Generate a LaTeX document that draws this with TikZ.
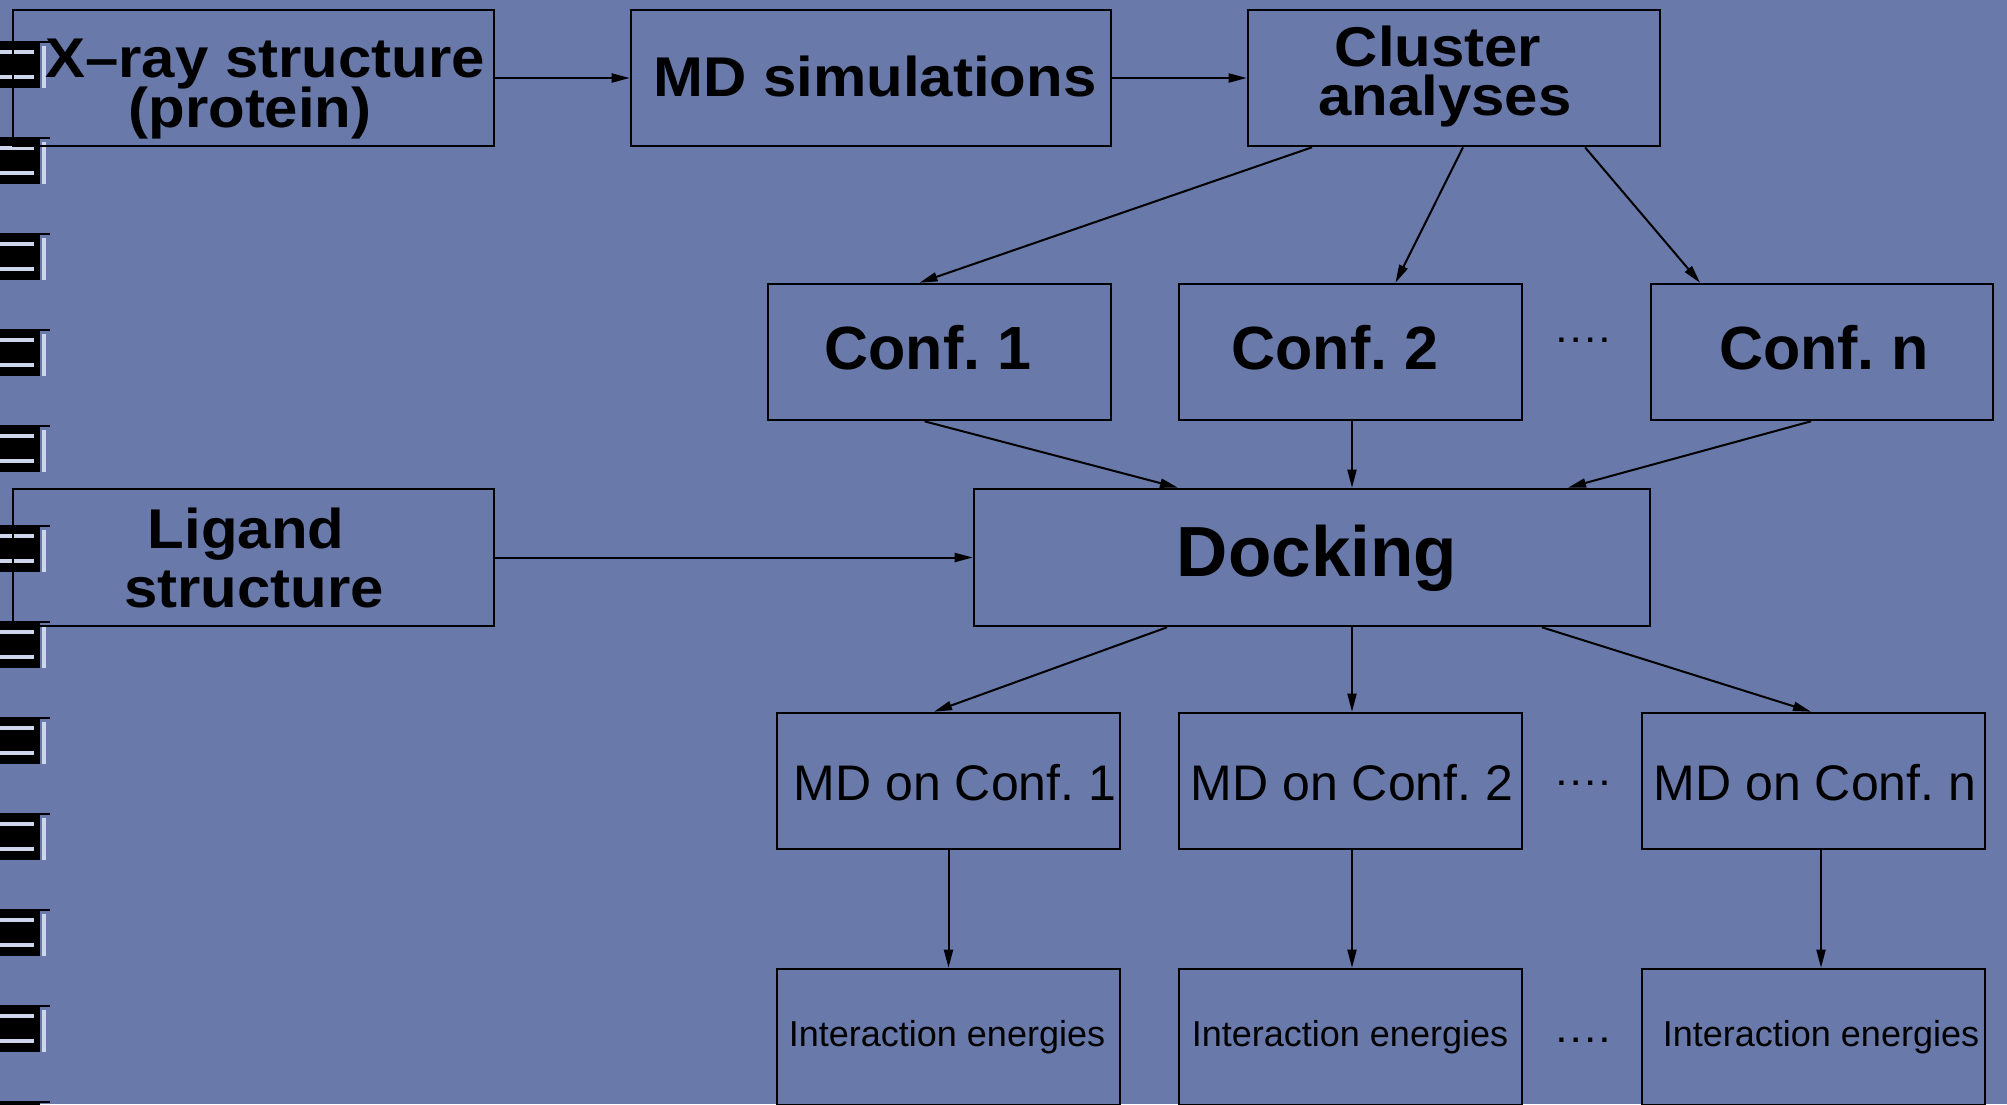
\documentclass[tikz,border=0pt]{standalone}
\usepackage{fontspec}
\setmainfont{Liberation Sans}
\usetikzlibrary{arrows.meta}
\definecolor{paper}{RGB}{104,121,170}
\definecolor{ringlight}{RGB}{205,214,235}
\newcommand{\widetxt}[1]{\scalebox{1.07}[1]{#1}}
\tikzset{
  box/.style={draw=black, line width=2.6pt, rectangle, inner sep=0pt, minimum height=136pt},
  txt/.style={anchor=base, inner sep=0pt, text=black},
  big/.style={txt, font=\bfseries\fontsize{56}{56}\selectfont},
  conf/.style={txt, font=\bfseries\fontsize{61}{61}\selectfont},
  mdf/.style={txt, font=\fontsize{50}{50}\selectfont},
  ief/.style={txt, font=\fontsize{36}{36}\selectfont},
  conn/.style={line width=2pt, -{Triangle[length=18pt,width=9pt]}},
  dots/.style={font=\bfseries\fontsize{30}{30}\selectfont, inner sep=0pt}
}
\begin{document}
\begin{tikzpicture}[x=1pt,y=-1pt]
\useasboundingbox (0,0) rectangle (2007,1104);
\fill[paper] (0,0) rectangle (2007,1104);
% spiral binding
\foreach \c in {65,161,257,353,449,549,645,741,837,933,1029,1125}{
  \fill[black] (0,\c-23) rectangle (40,\c+23);
  \draw[black, line width=2pt] (0,\c-23) -- (50,\c-23);
  \draw[ringlight, line width=4pt] (0,\c-13) -- (34,\c-13);
  \draw[ringlight, line width=4pt] (0,\c+12) -- (34,\c+12);
  \draw[ringlight, line width=3.5pt] (44,\c-19) -- (44,\c+23);
}
% boxes
\node[box, minimum width=481pt] (xray) at (253.5,78) {};
\node[box, minimum width=480pt] (mdsim) at (871,78) {};
\node[box, minimum width=412pt] (cluster) at (1454,78) {};
\node[box, minimum width=343pt] (conf1) at (939.5,352) {};
\node[box, minimum width=343pt] (conf2) at (1350.5,352) {};
\node[box, minimum width=342pt] (confn) at (1822,352) {};
\node[box, minimum width=481pt, minimum height=137pt] (ligand) at (253.5,557.5) {};
\node[box, minimum width=676pt, minimum height=137pt] (dock) at (1312,557.5) {};
\node[box, minimum width=343pt] (md1) at (948.5,781) {};
\node[box, minimum width=343pt] (md2) at (1350.5,781) {};
\node[box, minimum width=343pt] (mdn) at (1813.5,781) {};
\node[box, minimum width=343pt] (ie1) at (948.5,1037) {};
\node[box, minimum width=343pt] (ie2) at (1350.5,1037) {};
\node[box, minimum width=343pt] (ien) at (1813.5,1037) {};
% texts
\node[big] (xrayA) at (265,77) {\widetxt{X\textendash ray structure}};
\node[big] (xrayB) at (250,127) {\widetxt{(protein)}};
\node[big] (mdsimT) at (875,96) {\widetxt{MD simulations}};
\node[big] (clusterA) at (1438,66) {\widetxt{Cluster}};
\node[big] (clusterB) at (1445,115) {\widetxt{analyses}};
\node[conf] (conf1T) at (928,369) {Conf.\ 1};
\node[conf] (conf2T) at (1335,369) {Conf.\ 2};
\node[conf] (confnT) at (1824,369) {Conf.\ n};
\node[dots] (d1) at (1583,340) {.\kern6pt.\kern6pt.\kern6pt.};
\node[big] (ligandA) at (246,548) {\widetxt{Ligand}};
\node[big] (ligandB) at (254,607) {\widetxt{structure}};
\node[txt, font=\bfseries\fontsize{71}{71}\selectfont] (dockT) at (1317,576) {Docking};
\node[mdf] (md1T) at (955,800) {MD on Conf.\ 1};
\node[mdf] (md2T) at (1352,800) {MD on Conf.\ 2};
\node[mdf] (mdnT) at (1815,800) {MD on Conf.\ n};
\node[dots] (d2) at (1583,783) {.\kern6pt.\kern6pt.\kern6pt.};
\node[ief] (ie1T) at (947,1046) {Interaction energies};
\node[ief] (ie2T) at (1350,1046) {Interaction energies};
\node[ief] (ienT) at (1821,1046) {Interaction energies};
\node[dots] (d3) at (1583,1040) {.\kern6pt.\kern6pt.\kern6pt.};
% connectors
\draw[conn] (xray.east) -- (mdsim.west);
\draw[conn] (mdsim.east) -- (cluster.west);
\draw[conn] ([xshift=-142pt]cluster.south) -- ([xshift=-20pt]conf1.north);
\draw[conn] ([xshift=9pt]cluster.south) -- ([xshift=45pt]conf2.north);
\draw[conn] ([xshift=131pt]cluster.south) -- ([xshift=-122pt]confn.north);
\draw[conn] ([xshift=-15pt]conf1.south) -- ([xshift=-134pt]dock.north);
\draw[conn] ([xshift=1.5pt]conf2.south) -- ([xshift=40pt]dock.north);
\draw[conn] ([xshift=-11pt]confn.south) -- ([xshift=256pt]dock.north);
\draw[conn] (ligand.east) -- (dock.west);
\draw[conn] ([xshift=-145pt]dock.south) -- ([xshift=-14.5pt]md1.north);
\draw[conn] ([xshift=40pt]dock.south) -- ([xshift=1.5pt]md2.north);
\draw[conn] ([xshift=230pt]dock.south) -- ([xshift=-2.5pt]mdn.north);
\draw[conn] (md1.south) -- (ie1.north);
\draw[conn] ([xshift=1.5pt]md2.south) -- ([xshift=1.5pt]ie2.north);
\draw[conn] ([xshift=7.5pt]mdn.south) -- ([xshift=7.5pt]ien.north);
\end{tikzpicture}
\end{document}
